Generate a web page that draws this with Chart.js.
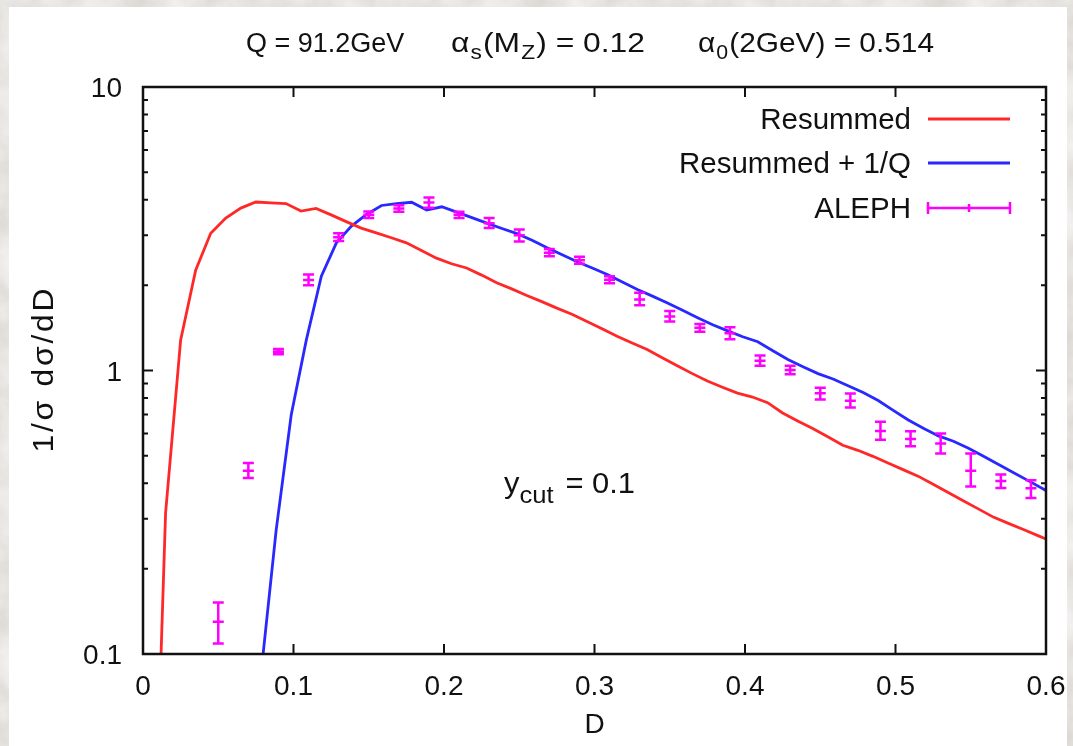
<!DOCTYPE html>
<html>
<head>
<meta charset="utf-8">
<title>D parameter distribution</title>
<script src="https://cdn.jsdelivr.net/npm/chart.js@4.4.1/dist/chart.umd.min.js"></script>
<style>
  html, body { margin: 0; padding: 0; }
  body {
    width: 1073px; height: 746px; overflow: hidden; position: relative;
    background-color: #dcd9d4;
    background-image: url("data:image/svg+xml,%3Csvg xmlns='http://www.w3.org/2000/svg' width='400' height='400'%3E%3Cfilter id='n'%3E%3CfeTurbulence type='fractalNoise' baseFrequency='0.025' numOctaves='4' seed='3'/%3E%3CfeColorMatrix values='0 0 0 0 1 0 0 0 0 1 0 0 0 0 1 1.1 0 0 0 -0.25'/%3E%3C/filter%3E%3Crect width='100%25' height='100%25' filter='url(%23n)'/%3E%3C/svg%3E");
  }
  #card { position: absolute; left: 9px; top: 7px; width: 1058px; height: 739px; background: #fff; }
  #plot { position: absolute; left: 0; top: 0; }
</style>
</head>
<body>
<div id="card"></div>
<canvas id="plot" width="1073" height="746"></canvas>
<script>
// Resummed prediction, sampled at bin centres
const redD = [0.005, 0.015, 0.025, 0.035, 0.045, 0.055, 0.065, 0.075, 0.085, 0.095,
  0.105, 0.115, 0.125, 0.135, 0.145, 0.155, 0.165, 0.175, 0.185, 0.195,
  0.205, 0.215, 0.225, 0.235, 0.245, 0.255, 0.265, 0.275, 0.285, 0.295,
  0.305, 0.315, 0.325, 0.335, 0.345, 0.355, 0.365, 0.375, 0.385, 0.395,
  0.405, 0.415, 0.425, 0.435, 0.445, 0.455, 0.465, 0.475, 0.485, 0.495,
  0.505, 0.515, 0.525, 0.535, 0.545, 0.555, 0.565, 0.575, 0.585, 0.595, 0.605];
const redY = [0.007, 0.314, 1.28, 2.26, 3.05, 3.45, 3.74, 3.93, 3.90, 3.88,
  3.65, 3.73, 3.54, 3.35, 3.18, 3.06, 2.94, 2.82, 2.65, 2.49,
  2.38, 2.30, 2.17, 2.04, 1.94, 1.84, 1.75, 1.66, 1.58, 1.49,
  1.405, 1.32, 1.25, 1.186, 1.11, 1.039, 0.975, 0.918, 0.873, 0.832,
  0.806, 0.770, 0.708, 0.663, 0.624, 0.584, 0.545, 0.523, 0.498, 0.472,
  0.447, 0.424, 0.397, 0.371, 0.347, 0.325, 0.304, 0.289, 0.275, 0.261, 0.248];

// Resummed + 1/Q (shifted distribution)
const blueD = [0.0785, 0.0885, 0.0985, 0.1085, 0.1185, 0.1285, 0.1385, 0.1485, 0.1585, 0.1685,
  0.1785, 0.1885, 0.1985, 0.2085, 0.2185, 0.2285, 0.2385, 0.2485, 0.2585, 0.2685,
  0.2785, 0.2885, 0.2985, 0.3085, 0.3185, 0.3285, 0.3385, 0.3485, 0.3585, 0.3685,
  0.3785, 0.3885, 0.3985, 0.4085, 0.4185, 0.4285, 0.4385, 0.4485, 0.4585, 0.4685,
  0.4785, 0.4885, 0.4985, 0.5085, 0.5185, 0.5285, 0.5385, 0.5485, 0.5585, 0.5685,
  0.5785, 0.5885, 0.5985, 0.6085];
const blueY = [0.086, 0.274, 0.698, 1.28, 2.15, 2.82, 3.23, 3.55, 3.82, 3.88,
  3.92, 3.68, 3.78, 3.62, 3.46, 3.31, 3.17, 3.04, 2.88, 2.71,
  2.56, 2.42, 2.30, 2.18, 2.05, 1.93, 1.83, 1.73, 1.63, 1.535,
  1.45, 1.38, 1.315, 1.263, 1.174, 1.093, 1.031, 0.975, 0.933, 0.884,
  0.836, 0.784, 0.723, 0.669, 0.626, 0.588, 0.563, 0.532, 0.498, 0.466,
  0.436, 0.408, 0.381, 0.356];

// ALEPH data with error bars
const alephD = [0.05, 0.07, 0.09, 0.11, 0.13, 0.15, 0.17, 0.19, 0.21, 0.23,
  0.25, 0.27, 0.29, 0.31, 0.33, 0.35, 0.37, 0.39, 0.41, 0.43,
  0.45, 0.47, 0.49, 0.51, 0.53, 0.55, 0.57, 0.59];
const alephY = [0.130, 0.443, 1.165, 2.085, 2.95, 3.54, 3.73, 3.91, 3.54, 3.31,
  3.00, 2.60, 2.45, 2.09, 1.78, 1.55, 1.416, 1.353, 1.083, 1.004,
  0.831, 0.782, 0.612, 0.573, 0.553, 0.443, 0.4075, 0.384];
const alephLo = [0.109, 0.418, 1.14, 2.00, 2.86, 3.45, 3.63, 3.75, 3.45, 3.18,
  2.85, 2.53, 2.38, 2.03, 1.70, 1.49, 1.37, 1.29, 1.04, 0.97,
  0.79, 0.74, 0.57, 0.54, 0.51, 0.39, 0.385, 0.355];
const alephHi = [0.152, 0.472, 1.19, 2.18, 3.05, 3.64, 3.83, 4.08, 3.63, 3.45,
  3.14, 2.68, 2.52, 2.15, 1.88, 1.62, 1.46, 1.42, 1.13, 1.04,
  0.87, 0.83, 0.66, 0.61, 0.60, 0.51, 0.43, 0.41];

const xTicks = [0, 0.1, 0.2, 0.3, 0.4, 0.5, 0.6];
const xTickLabels = ['0', '0.1', '0.2', '0.3', '0.4', '0.5', '0.6'];
const yTicks = [0.1, 1, 10];
const yTickLabels = ['0.1', '1', '10'];
const yMinorTicks = [0.2, 0.3, 0.4, 0.5, 0.6, 0.7, 0.8, 0.9, 2, 3, 4, 5, 6, 7, 8, 9];

const RED = 'rgb(255,40,40)';
const BLUE = 'rgb(40,40,255)';
const MAGENTA = 'rgb(255,0,255)';
const FONT = '"Liberation Sans", Arial, sans-serif';

function pairs(xs, ys) {
  return xs.map((v, i) => ({ x: v, y: ys[i] }));
}

// text built from pieces {t, size, dy, gap}, optionally fitted to a width
function richText(ctx, pieces, x, y, width) {
  let natural = 0;
  pieces.forEach(p => {
    ctx.font = p.size + 'px ' + FONT;
    natural += ctx.measureText(p.t).width + (p.gap || 0);
  });
  ctx.save();
  ctx.translate(x, y);
  ctx.scale(width ? width / natural : 1, 1);
  let cx = 0;
  pieces.forEach(p => {
    cx += p.gap || 0;
    ctx.font = p.size + 'px ' + FONT;
    ctx.fillText(p.t, cx, p.dy || 0);
    cx += ctx.measureText(p.t).width;
  });
  ctx.restore();
}

// spaced-out text drawn one character at a time, centred on x
function spacedText(ctx, str, x, y, spacing) {
  const chars = Array.from(str);
  const widths = chars.map(c => ctx.measureText(c).width);
  const total = widths.reduce((s, w) => s + w, 0) + spacing * (chars.length - 1);
  let cx = x - total / 2;
  ctx.textAlign = 'left';
  chars.forEach((c, i) => {
    ctx.fillText(c, cx, y);
    cx += widths[i] + spacing;
  });
}

const errorBars = {
  id: 'errorBars',
  afterDatasetsDraw(chart) {
    const { ctx, chartArea: a, scales: { x, y } } = chart;
    ctx.save();
    ctx.beginPath();
    ctx.rect(a.left, a.top, a.right - a.left, a.bottom - a.top);
    ctx.clip();
    ctx.strokeStyle = MAGENTA;
    ctx.lineWidth = 2.5;
    const w = 5.5;
    alephD.forEach((d, i) => {
      const px = x.getPixelForValue(d);
      const py = y.getPixelForValue(alephY[i]);
      const lo = y.getPixelForValue(alephLo[i]);
      const hi = y.getPixelForValue(alephHi[i]);
      ctx.beginPath();
      ctx.moveTo(px, lo); ctx.lineTo(px, hi);
      ctx.moveTo(px - w, lo); ctx.lineTo(px + w, lo);
      ctx.moveTo(px - w, hi); ctx.lineTo(px + w, hi);
      ctx.moveTo(px - w, py); ctx.lineTo(px + w, py);
      ctx.stroke();
    });
    ctx.restore();
  }
};

const frame = {
  id: 'frame',
  afterDraw(chart) {
    const { ctx, chartArea: a, scales: { x, y } } = chart;
    ctx.save();
    ctx.strokeStyle = '#111';
    ctx.fillStyle = '#111';
    ctx.lineWidth = 2.5;
    ctx.strokeRect(a.left, a.top, a.right - a.left, a.bottom - a.top);

    // inward ticks on all four sides
    ctx.lineWidth = 2;
    ctx.beginPath();
    xTicks.forEach(v => {
      const px = x.getPixelForValue(v);
      ctx.moveTo(px, a.bottom); ctx.lineTo(px, a.bottom - 10);
      ctx.moveTo(px, a.top); ctx.lineTo(px, a.top + 10);
    });
    yTicks.forEach(v => {
      const py = y.getPixelForValue(v);
      ctx.moveTo(a.left, py); ctx.lineTo(a.left + 10, py);
      ctx.moveTo(a.right, py); ctx.lineTo(a.right - 10, py);
    });
    yMinorTicks.forEach(v => {
      const py = y.getPixelForValue(v);
      ctx.moveTo(a.left, py); ctx.lineTo(a.left + 5, py);
      ctx.moveTo(a.right, py); ctx.lineTo(a.right - 5, py);
    });
    ctx.stroke();

    // tick labels
    ctx.font = '28px ' + FONT;
    ctx.textBaseline = 'alphabetic';
    ctx.textAlign = 'center';
    xTicks.forEach((v, i) => ctx.fillText(xTickLabels[i], x.getPixelForValue(v), a.bottom + 41));
    ctx.textAlign = 'right';
    yTicks.forEach((v, i) => ctx.fillText(yTickLabels[i], a.left - 21, y.getPixelForValue(v) + 10));

    // axis titles
    ctx.textAlign = 'center';
    ctx.fillText('D', (a.left + a.right) / 2, 733);
    ctx.save();
    ctx.translate(53, (a.top + a.bottom) / 2);
    ctx.rotate(-Math.PI / 2);
    ctx.scale(1.1, 1);
    ctx.font = '29px ' + FONT;
    spacedText(ctx, '1/\u03c3 d\u03c3/dD', 0, 0, 2.5);
    ctx.restore();

    // header line
    ctx.textAlign = 'left';
    richText(ctx, [{ t: 'Q = 91.2GeV', size: 27 }], 246, 52);
    richText(ctx, [
      { t: '\u03b1', size: 28 }, { t: 's', size: 20, dy: 7, gap: 1 },
      { t: '(M', size: 28, gap: 1 }, { t: 'Z', size: 20, dy: 7, gap: 1 },
      { t: ')', size: 28, gap: 1 }, { t: ' = 0.12', size: 28 }
    ], 451, 52, 194);
    richText(ctx, [
      { t: '\u03b1', size: 28 }, { t: '0', size: 20, dy: 7, gap: 1 },
      { t: '(2GeV)', size: 28, gap: 1 }, { t: ' = 0.514', size: 28 }
    ], 698, 52, 236);

    // cut annotation
    richText(ctx, [
      { t: 'y', size: 29 }, { t: 'cut', size: 24, dy: 10 },
      { t: ' = 0.1', size: 29, gap: 3 }
    ], 504, 493, 131);

    // key
    ctx.font = '29.5px ' + FONT;
    ctx.textAlign = 'right';
    ctx.fillText('Resummed', 911, 129);
    ctx.fillText('Resummed + 1/Q', 911, 173);
    ctx.fillText('ALEPH', 911, 218);
    ctx.lineWidth = 2.8;
    ctx.strokeStyle = RED;
    ctx.beginPath(); ctx.moveTo(928, 119); ctx.lineTo(1010, 119); ctx.stroke();
    ctx.strokeStyle = BLUE;
    ctx.beginPath(); ctx.moveTo(928, 163); ctx.lineTo(1010, 163); ctx.stroke();
    ctx.strokeStyle = MAGENTA;
    ctx.lineWidth = 2.5;
    ctx.beginPath();
    ctx.moveTo(928, 208); ctx.lineTo(1010, 208);
    ctx.moveTo(928, 202); ctx.lineTo(928, 214);
    ctx.moveTo(1010, 202); ctx.lineTo(1010, 214);
    ctx.moveTo(969, 204); ctx.lineTo(969, 212);
    ctx.stroke();
    ctx.restore();
  }
};

const config = {
  type: 'scatter',
  data: {
    datasets: [
      {
        label: 'Resummed',
        data: pairs(redD, redY),
        showLine: true,
        borderColor: RED,
        borderWidth: 2.8,
        pointRadius: 0,
        tension: 0
      },
      {
        label: 'Resummed + 1/Q',
        data: pairs(blueD, blueY),
        showLine: true,
        borderColor: BLUE,
        borderWidth: 2.8,
        pointRadius: 0,
        tension: 0
      },
      {
        label: 'ALEPH',
        data: pairs(alephD, alephY),
        pointRadius: 0,
        borderColor: MAGENTA
      }
    ]
  },
  options: {
    responsive: false,
    animation: false,
    layout: { padding: { left: 143, top: 87, right: 27, bottom: 92 } },
    plugins: { legend: { display: false }, tooltip: { enabled: false } },
    scales: {
      x: {
        type: 'linear', min: 0, max: 0.6,
        grid: { display: false }, border: { display: false },
        ticks: { display: false, stepSize: 0.1 },
        afterFit: s => { s.height = 0; }
      },
      y: {
        type: 'logarithmic', min: 0.1, max: 10,
        grid: { display: false }, border: { display: false },
        ticks: { display: false },
        afterFit: s => { s.width = 0; }
      }
    }
  },
  plugins: [errorBars, frame]
};

new Chart(document.getElementById('plot'), config);
</script>
</body>
</html>
